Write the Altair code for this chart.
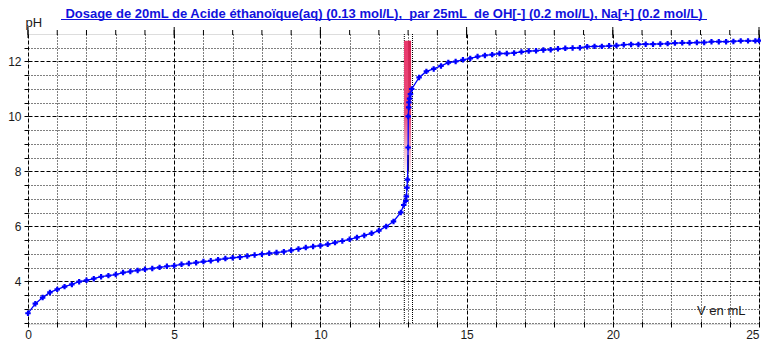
import altair as alt
import pandas as pd

# ---- data ----
volume_ml = [
    0, 0.25, 0.5, 0.75, 1, 1.25, 1.5, 1.75, 2, 2.25, 2.5, 2.75, 3, 3.25, 3.5, 3.75,
    4, 4.25, 4.5, 4.75, 5, 5.25, 5.5, 5.75, 6, 6.25, 6.5, 6.75, 7, 7.25, 7.5, 7.75,
    8, 8.25, 8.5, 8.75, 9, 9.25, 9.5, 9.75, 10, 10.25, 10.5, 10.75, 11, 11.25, 11.5, 11.75,
    12, 12.25, 12.5, 12.75,
    12.85, 12.92, 12.94, 12.96, 12.98, 13.0, 13.005, 13.02, 13.03, 13.05, 13.08, 13.125,
    13.375, 13.625, 13.875, 14.125, 14.375, 14.625, 14.875, 15.125, 15.375, 15.625, 15.875,
    16.125, 16.375, 16.625, 16.875, 17.125, 17.375, 17.625, 17.875, 18.125, 18.375, 18.625, 18.875,
    19.125, 19.375, 19.625, 19.875, 20.125, 20.375, 20.625, 20.875, 21.125, 21.375, 21.625, 21.875,
    22.125, 22.375, 22.625, 22.875, 23.125, 23.375, 23.625, 23.875, 24.125, 24.375, 24.625, 24.875,
    25.0,
]
ph_values = [
    2.84, 3.19, 3.41, 3.60, 3.71, 3.81, 3.89, 3.99, 4.04, 4.10, 4.17, 4.21, 4.25, 4.32, 4.36, 4.40,
    4.44, 4.47, 4.51, 4.55, 4.57, 4.62, 4.65, 4.68, 4.72, 4.75, 4.79, 4.83, 4.86, 4.88, 4.92, 4.96,
    4.99, 5.02, 5.05, 5.08, 5.13, 5.18, 5.23, 5.27, 5.30, 5.35, 5.41, 5.47, 5.53, 5.60, 5.67, 5.75,
    5.85, 6.00, 6.18, 6.51,
    6.78, 6.93, 7.09, 7.41, 7.70, 8.87, 10.0, 10.33, 10.51, 10.65, 10.81, 11.0,
    11.42, 11.64, 11.73, 11.84, 11.96, 12.00, 12.06, 12.11, 12.18, 12.22, 12.25,
    12.29, 12.29, 12.31, 12.35, 12.38, 12.39, 12.42, 12.43, 12.46, 12.48, 12.49, 12.50,
    12.54, 12.55, 12.55, 12.57, 12.58, 12.61, 12.62, 12.62, 12.63, 12.63, 12.64, 12.65,
    12.67, 12.68, 12.68, 12.69, 12.69, 12.72, 12.72, 12.72, 12.73, 12.75, 12.75, 12.75,
    12.76,
]
assert len(volume_ml) == len(ph_values)

# equivalence zone markers
eq_dotted_v = [12.87, 13.15]
band_v = [12.86, 13.10]
band_dark_v = [13.0, 13.10]
band_ph = [8.0, 12.75]
eq_v = [13.0]
eq_rule_ph = [8.0, 8.6]

x_ticks = list(range(0, 26))
x_major_top = [0, 5, 10, 15, 20, 25]
y_ticks = [2.5 + 0.5 * i for i in range(21)]

TITLE = "Dosage de 20mL de Acide éthanoïque(aq) (0.13 mol/L), \u00a0par 25mL \u00a0de OH[-] (0.2 mol/L), Na[+] (0.2 mol/L)"
FONT = "Liberation Sans"
BLUE = "#0000ff"
TITLE_BLUE = "#1111dd"
TXT = "#1a1a1a"

df = pd.DataFrame({"V": volume_ml, "pH": ph_values})
df_dot = pd.DataFrame({"V": eq_dotted_v})
df_band = pd.DataFrame({"V": [band_v[0]], "v1": [band_v[1]], "pH": [band_ph[0]], "p1": [band_ph[1]]})
df_dark = pd.DataFrame({"V": [band_dark_v[0]], "v1": [band_dark_v[1]], "pH": [band_ph[0]], "p1": [band_ph[1]]})
df_eq = pd.DataFrame({"V": eq_v, "pH": [eq_rule_ph[0]], "p1": [eq_rule_ph[1]]})
df_title = pd.DataFrame({"t": [TITLE]})
df_top = pd.DataFrame({"V": x_ticks})
df_top_major = pd.DataFrame({"V": x_major_top})

xscale = alt.Scale(domain=[0, 25], nice=False, zero=False)
yscale = alt.Scale(domain=[2.45, 13.0], nice=False, zero=False)

x_axis = alt.Axis(
    values=x_ticks,
    labelExpr="datum.value % 5 === 0 ? format(datum.value, 'd') : ''",
    labelFlush=False, labelOverlap=False,
    labelAlign={"condition": {"test": "datum.value === 25", "value": "right"}, "value": "center"},
    labelFont=FONT, labelFontSize=12, labelColor=TXT, labelPadding=2.5,
    grid=True, gridColor="black", gridOpacity=1, gridWidth=1,
    gridDash={"condition": {"test": "datum.value % 5 === 0", "value": [4, 2]}, "value": [1, 2]},
    domain=False, offset=-3, tickSize=6, tickColor="black",
    title="V en mL", titleFont=FONT, titleFontSize=13, titleFontWeight="normal",
    titleColor=TXT, titleX=717, titleY=-7, titleAlign="right",
    titleBaseline="alphabetic",
)
y_axis = alt.Axis(
    values=y_ticks,
    labelExpr="datum.value % 2 === 0 ? format(datum.value, 'd') : ''",
    labelFont=FONT, labelFontSize=12, labelColor=TXT, labelPadding=3,
    labelOverlap=False, labelFlush=False,
    grid=True, gridColor="black", gridOpacity=1, gridWidth=1,
    gridDash={"condition": {"test": "datum.value % 2 === 0", "value": [4, 2]}, "value": [1, 2]},
    domain=False, tickSize=4, tickColor="black",
    title="pH", titleFont=FONT, titleFontSize=13, titleFontWeight="normal",
    titleColor=TXT, titleAngle=0, titleX=-3, titleY=-8,
    titleAlign="left", titleBaseline="alphabetic",
)

def X(field="V"):
    return alt.X(f"{field}:Q", scale=xscale, axis=x_axis)

def Y(field="pH"):
    return alt.Y(f"{field}:Q", scale=yscale, axis=y_axis)

grad_main = alt.Gradient(
    gradient="linear", x1=0, y1=0, x2=0, y2=1,
    stops=[
        alt.GradientStop(color="#e8386c", offset=0),
        alt.GradientStop(color="#ea4a7b", offset=0.55),
        alt.GradientStop(color="#f4b3c8", offset=0.82),
        alt.GradientStop(color="#fdf3f6", offset=1),
    ],
)
grad_dark = alt.Gradient(
    gradient="linear", x1=0, y1=0, x2=0, y2=1,
    stops=[
        alt.GradientStop(color="#d0204f", offset=0),
        alt.GradientStop(color="#dd3466", offset=0.55),
        alt.GradientStop(color="#f0a4bc", offset=0.82),
        alt.GradientStop(color="#fbe8ee", offset=1),
    ],
)

line = alt.Chart(df).mark_line(color=BLUE, strokeWidth=1.3).encode(x=X(), y=Y())
points = alt.Chart(df).mark_point(shape="cross", filled=True, color=BLUE, size=30, opacity=1).encode(
    x=X(), y=Y(),
)
dotted = alt.Chart(df_dot).mark_rule(color="black", strokeDash=[1, 1], strokeWidth=1).encode(x=X())
band = alt.Chart(df_band).mark_rect(fill=grad_main).encode(x=X(), x2="v1:Q", y=Y(), y2="p1:Q")
band_dark = alt.Chart(df_dark).mark_rect(fill=grad_dark).encode(x=X(), x2="v1:Q", y=Y(), y2="p1:Q")
eq_rule = alt.Chart(df_eq).mark_rule(color="black", strokeWidth=1.5).encode(x=X(), y=Y(), y2="p1:Q")
top_ticks = alt.Chart(df_top).mark_rule(color="black", strokeWidth=1).encode(
    x=X(), y=alt.value(-4), y2=alt.value(1),
)
top_ticks_major = alt.Chart(df_top_major).mark_rule(color="black", strokeWidth=1).encode(
    x=X(), y=alt.value(-7), y2=alt.value(4),
)
title_text = alt.Chart(df_title).mark_text(
    color=TITLE_BLUE, font=FONT, fontSize=13, fontWeight="bold",
    align="center", baseline="alphabetic",
).encode(text="t:N", x=alt.value(356), y=alt.value(-16))
underline = alt.Chart(df_title).mark_rule(color=TITLE_BLUE, strokeWidth=1).encode(
    x=alt.value(33), x2=alt.value(679), y=alt.value(-14.5),
)

chart = alt.layer(
    dotted, band, band_dark, eq_rule, line, points, top_ticks, top_ticks_major, title_text, underline
).properties(
    width=731, height=290,
    padding={"left": 20, "top": 26, "right": 2, "bottom": 18},
    autosize=alt.AutoSizeParams(type="none"),
).configure_view(stroke="black", strokeWidth=1).configure(background="white")

chart.save("out.html", embed_options={"renderer": "svg", "actions": False})
